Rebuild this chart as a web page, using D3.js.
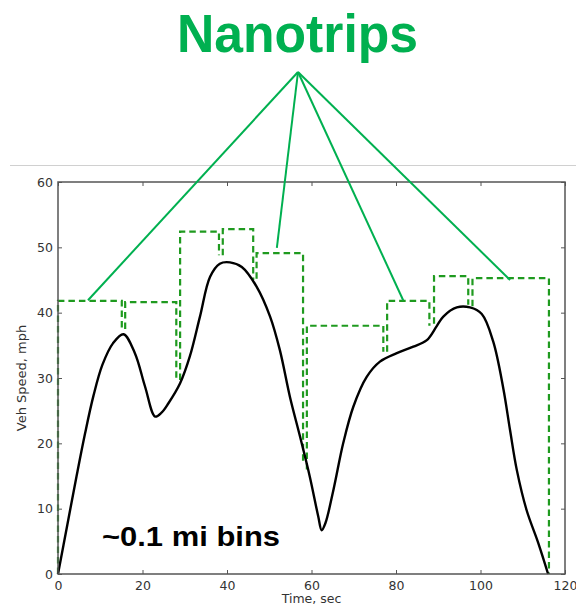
<!DOCTYPE html>
<html>
<head>
<meta charset="utf-8">
<script src="https://cdn.jsdelivr.net/npm/d3@7"></script>
<style>
  html, body { margin: 0; padding: 0; background: #fff; }
  svg { display: block; }
</style>
</head>
<body>
<svg width="576" height="607"></svg>
<script>
// ---- Dados: curva de velocidade
const timeSec = [0, 2.2, 4.4, 6.4, 8.4, 10.5, 13, 15.5, 18.2, 20.6, 23.0, 24.5, 26.1, 28.9, 31.2, 33.6,
    36.0, 38.3, 40.7, 43.5, 47.0, 50.2, 52.5, 54.9, 57.3, 59.6, 61.6, 62.4, 63.3, 65.2, 67.5, 69.9,
    73.1, 76.2, 80.2, 84.1, 87.3, 89.6, 91.2, 94.4, 97.5, 100.3, 103.0, 105.4, 107.0, 108.6, 110.9, 113.7, 116.0];
const speedMph = [0, 7.5, 15, 21.5, 27.3, 32, 35.3, 36.7, 33.8, 28.7, 24.1, 24.7, 26.1, 29.2, 33.3, 39.4,
    45.5, 47.5, 47.7, 47.0, 44.0, 39.4, 34.3, 27.1, 21.0, 14.9, 8.8, 6.7, 7.8, 12.9, 20.0, 25.6,
    30.2, 32.5, 33.8, 34.8, 35.8, 37.9, 39.4, 40.8, 40.8, 39.8, 35.6, 28.4, 22.0, 15.9, 9.8, 4.7, 0];

// ---- Nanotrips (~0.1 mi bins): início, fim, velocidade média, base das verticais
const tripStart = [0, 15.9, 28.9, 39.0, 47.0, 58.9, 77.9, 89.0, 98.1];
const tripEnd = [15.1, 28.0, 38.1, 46.2, 58.0, 77.0, 87.9, 97.1, 116.2];
const tripSpeed = [41.8, 41.6, 52.4, 52.8, 49.1, 38.0, 41.8, 45.6, 45.3];
const tripStartLow = [0, 37.5, 29.7, 48.8, 45.2, 16.0, 34.0, 38.3, 41.0];
const tripEndLow = [37.5, 29.7, 48.8, 45.0, 17.0, 34.0, 38.0, 41.2, 0];

// ---- Anotação "Nanotrips": pontas das setas (tempo, velocidade)
const calloutTime = [7.1, 51.8, 81.7, 107.0];
const calloutSpeed = [41.9, 49.9, 41.9, 45.0];

const xTicks = [0, 20, 40, 60, 80, 100, 120];
const yTicks = [0, 10, 20, 30, 40, 50, 60];

const svg = d3.select('svg');
const margens = { left: 58, top: 182, right: 11, bottom: 33 };
const innerWidth = 576 - margens.left - margens.right;
const innerHeight = 607 - margens.top - margens.bottom;

const mapX = d3.scaleLinear().domain([0, 120]).range([0, innerWidth]);
const mapY = d3.scaleLinear().domain([0, 60]).range([innerHeight, 0]);

// ---- Linha cinza no topo (do slide)
svg.append('line')
    .attr('x1', 10).attr('x2', 576)
    .attr('y1', 165.5).attr('y2', 165.5)
    .attr('stroke', '#d0d0d0')
    .attr('stroke-width', 1.2);

// ---- Título
svg.append('text')
    .attr('x', 177)
    .attr('y', 52)
    .attr('textLength', 241)
    .attr('lengthAdjust', 'spacingAndGlyphs')
    .style('font-family', '"Liberation Sans", Arial, sans-serif')
    .style('font-weight', 'bold')
    .style('font-size', '53px')
    .attr('fill', '#00b050')
    .text('Nanotrips');

const g = svg.append('g')
    .attr('id', 'group')
    .attr('transform', `translate(${margens.left}, ${margens.top})`);

// ---- Eixos (ticks para dentro nos quatro lados)
const styleAxis = sel => {
    sel.select('.domain').remove();
    sel.selectAll('line').attr('stroke', '#555').attr('stroke-width', 1);
    sel.selectAll('text')
        .style('font-family', '"DejaVu Sans", sans-serif')
        .style('font-size', '12.5px')
        .attr('fill', '#333');
};
// eixos espelhados (topo/direita) sem rótulos
const noLabels = sel => sel.selectAll('text').remove();

g.append('g')
    .attr('transform', `translate(0, ${innerHeight})`)
    .call(d3.axisBottom(mapX).tickValues(xTicks).tickSizeInner(-4).tickPadding(7))
    .call(styleAxis);
g.append('g')
    .call(d3.axisTop(mapX).tickValues(xTicks).tickSizeInner(-4))
    .call(styleAxis)
    .call(noLabels);
g.append('g')
    .call(d3.axisLeft(mapY).tickValues(yTicks).tickSizeInner(-4).tickPadding(5))
    .call(styleAxis);
g.append('g')
    .attr('transform', `translate(${innerWidth}, 0)`)
    .call(d3.axisRight(mapY).tickValues(yTicks).tickSizeInner(-4))
    .call(styleAxis)
    .call(noLabels);

// ---- Nanotrips tracejados
const trips = tripStart.map((t0, i) => [
    [t0, tripStartLow[i]],
    [t0, tripSpeed[i]],
    [tripEnd[i], tripSpeed[i]],
    [tripEnd[i], tripEndLow[i]]
]);
const tripLine = d3.line().x(d => mapX(d[0])).y(d => mapY(d[1]));

g.append('g')
    .attr('class', 'trips')
    .selectAll('path')
    .data(trips)
    .join('path')
    .attr('d', tripLine)
    .attr('fill', 'none')
    .attr('stroke', '#1f9a1f')
    .attr('stroke-width', 2.2)
    .attr('stroke-dasharray', '6.5,4');

// ---- Curva de velocidade
const speedData = timeSec.map((t, i) => ({ t: t, v: speedMph[i] }));
const line = d3.line()
    .x(d => mapX(d.t))
    .y(d => mapY(d.v))
    .curve(d3.curveCatmullRom.alpha(0.5));

g.append('path')
    .datum(speedData)
    .attr('d', line)
    .attr('fill', 'none')
    .attr('stroke', '#000')
    .attr('stroke-width', 2.4);

// ---- Moldura
g.append('rect')
    .attr('width', innerWidth)
    .attr('height', innerHeight)
    .attr('fill', 'none')
    .attr('stroke', '#555')
    .attr('stroke-width', 1.5);

// ---- Linhas de anotação (do título até os nanotrips)
const apex = [298 - margens.left, 72 - margens.top];
g.append('g')
    .selectAll('line')
    .data(calloutTime.map((t, i) => [t, calloutSpeed[i]]))
    .join('line')
    .attr('x1', apex[0])
    .attr('y1', apex[1])
    .attr('x2', d => mapX(d[0]))
    .attr('y2', d => mapY(d[1]))
    .attr('stroke', '#00b050')
    .attr('stroke-width', 2);

// ---- Textos
g.append('text')
    .attr('x', 44)
    .attr('y', 546 - margens.top)
    .attr('textLength', 178)
    .attr('lengthAdjust', 'spacingAndGlyphs')
    .style('font-family', '"Liberation Sans", Arial, sans-serif')
    .style('font-weight', 'bold')
    .style('font-size', '27px')
    .attr('fill', '#000')
    .text('~0.1 mi bins');

g.append('text')
    .attr('x', innerWidth / 2)
    .attr('y', innerHeight + 29)
    .attr('text-anchor', 'middle')
    .style('font-family', '"DejaVu Sans", sans-serif')
    .style('font-size', '12.5px')
    .attr('fill', '#333')
    .text('Time, sec');

g.append('text')
    .attr('transform', `translate(${22 - margens.left + 4}, ${innerHeight / 2}) rotate(-90)`)
    .attr('text-anchor', 'middle')
    .style('font-family', '"DejaVu Sans", sans-serif')
    .style('font-size', '13px')
    .attr('fill', '#333')
    .text('Veh Speed, mph');
</script>
</body>
</html>
